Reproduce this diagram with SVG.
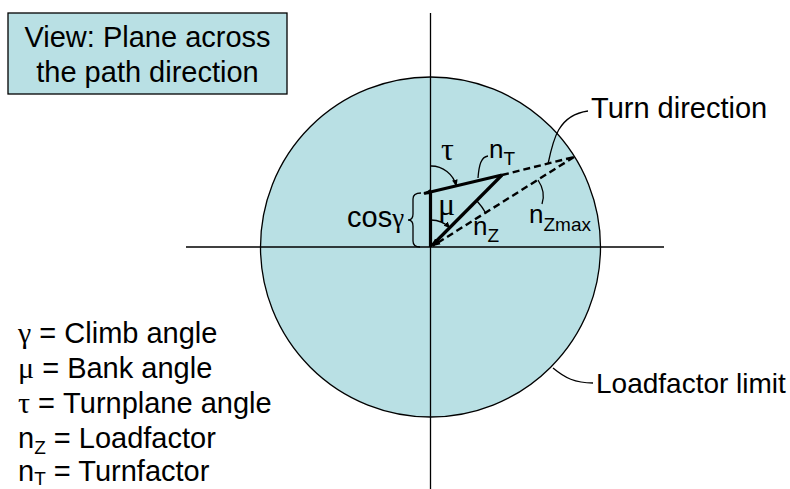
<svg xmlns="http://www.w3.org/2000/svg" width="790" height="489" viewBox="0 0 790 489">
<defs>
<style>
.t{font-family:"Liberation Sans",Arial,sans-serif;font-size:29px;fill:#000}
.s{font-family:"Liberation Sans",Arial,sans-serif;font-size:26px;fill:#000}
.g{font-family:"Liberation Serif","Times New Roman",serif;font-size:30px}
.gl{font-family:"Liberation Serif","Times New Roman",serif;font-size:32px;fill:#000}
.sub{font-size:19px}
.fill{fill:#B9E0E4;stroke:#000;stroke-width:1.3}
.ax{stroke:#000;stroke-width:1.3;fill:none}
.thick{stroke:#000;stroke-width:3.2;fill:none}
.dash{stroke:#000;stroke-width:2.4;fill:none;stroke-dasharray:7 4}
.thin{stroke:#000;stroke-width:1.3;fill:none}
</style>
<marker id="ah" viewBox="0 0 10 10" refX="9" refY="5" markerWidth="7" markerHeight="7" orient="auto" markerUnits="userSpaceOnUse">
<path d="M0,1 L10,5 L0,9 z" fill="#000"/>
</marker>
<marker id="ahs" viewBox="0 0 10 10" refX="9" refY="5" markerWidth="8" markerHeight="8" orient="auto" markerUnits="userSpaceOnUse">
<path d="M0,1.5 L10,5 L0,8.5 z" fill="#000"/>
</marker>
</defs>
<g id="loadfactor-circle">
<circle class="fill" cx="430.5" cy="247" r="170"/>
</g>
<g id="view-box">
<rect class="fill" x="8" y="13" width="279" height="81"/>
<text class="t" x="147.5" y="47" text-anchor="middle">View: Plane across</text>
<text class="t" x="147.5" y="82" text-anchor="middle">the path direction</text>
</g>
<g id="connectors">
<line class="ax" x1="430.5" y1="13" x2="430.5" y2="489"/>
<line class="ax" x1="186" y1="247" x2="664" y2="247"/>
<line class="dash" x1="502" y1="175" x2="574" y2="157"/>
<line class="dash" x1="574" y1="157" x2="433" y2="245.8" marker-end="url(#ahs)"/>
<line class="thick" x1="430.5" y1="247" x2="430.5" y2="192"/>
<line class="thick" x1="502" y1="175" x2="424" y2="193.5" marker-end="url(#ahs)"/>
<line class="thick" x1="502" y1="175" x2="432" y2="245.5" marker-end="url(#ahs)"/>
<path class="thin" d="M430.5 166 A26 26 0 0 1 456.3 186" marker-end="url(#ah)"/>
<path class="thin" d="M430.5 220 A27 27 0 0 1 450 228" marker-end="url(#ah)"/>
<path class="thin" d="M477 201 A64 64 0 0 1 486 213.5"/>
<path class="thin" d="M538 180 Q546 192 542 204"/>
<path class="thin" d="M478 178 C479 165 481 157 488 156"/>
<path class="thin" d="M548 164 C553 140 558 115 588 111"/>
<path class="thin" d="M553 368 C565 378 575 383 593 383"/>
<path class="thin" d="M421 193 Q413 193 413 199 L413 214 Q413 220 408 220 Q413 220 413 226 L413 241 Q413 247 420 247"/>
</g>
<g id="angle-labels">
<text class="gl" x="441" y="160">τ</text>
<text class="gl" x="438" y="215">μ</text>
<text class="t" x="347" y="227">cos<tspan class="g" style="font-size:27px">γ</tspan></text>
<text class="s" x="489" y="158">n<tspan class="sub" dy="7">T</tspan></text>
<text class="s" x="473" y="235">n<tspan class="sub" dy="7">Z</tspan></text>
<text class="s" x="529" y="223">n<tspan class="sub" dy="8">Zmax</tspan></text>
</g>
<g id="turn-direction-label">
<text class="t" x="591" y="118">Turn direction</text>
</g>
<g id="loadfactor-limit-label">
<text class="t" x="596" y="393" style="font-size:28px">Loadfactor limit</text>
</g>
<g id="legend">
<text class="t" x="18" y="343"><tspan class="g">γ</tspan> = Climb angle</text>
<text class="t" x="18" y="378"><tspan class="g">μ</tspan> = Bank angle</text>
<text class="t" x="18" y="413"><tspan class="g">τ</tspan> = Turnplane angle</text>
<text class="t" x="18" y="448">n<tspan class="sub" dy="6">Z</tspan><tspan dy="-6"> = Loadfactor</tspan></text>
<text class="t" x="18" y="481">n<tspan class="sub" dy="4">T</tspan><tspan dy="-4"> = Turnfactor</tspan></text>
</g>
</svg>
